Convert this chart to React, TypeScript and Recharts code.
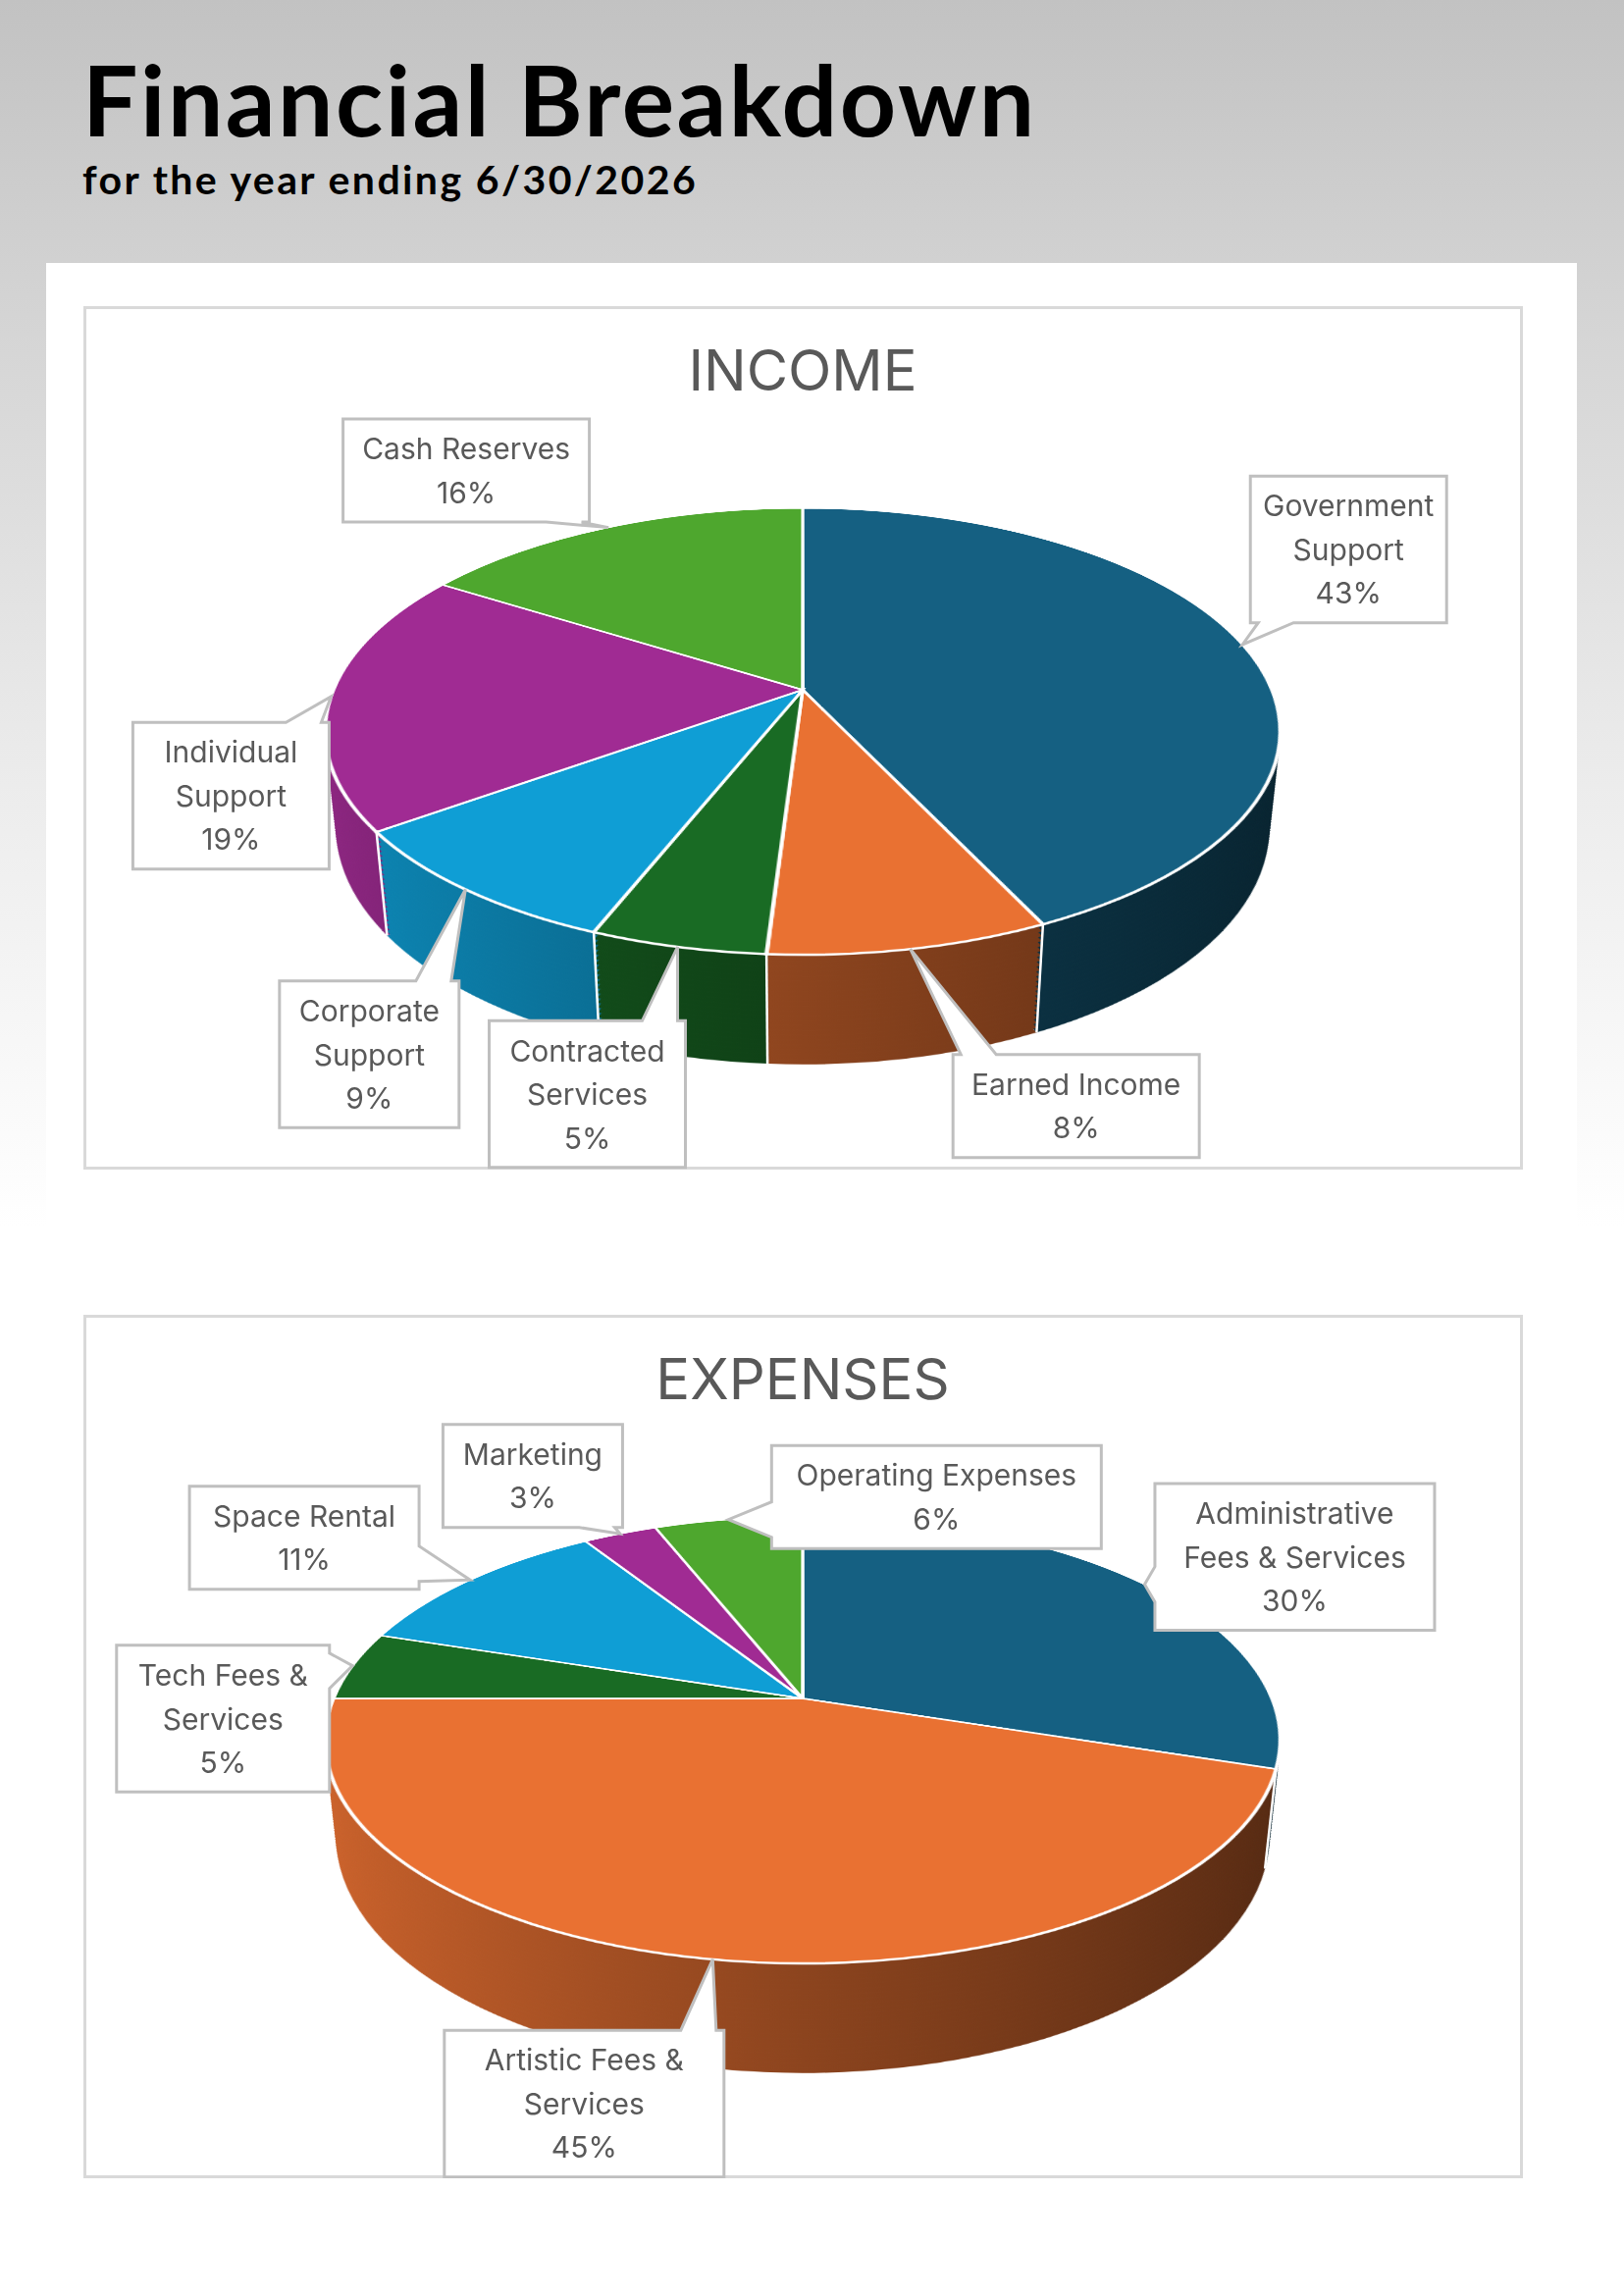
import React from 'react';
import { PieChart, Pie, Cell } from 'recharts';

// Office theme colours, in slice order
const palette = ['#156082', '#E97132', '#196B24', '#0F9ED5', '#A02B93', '#4EA72E'];

const incomeCategories = [
  'Government Support',
  'Earned Income',
  'Contracted Services',
  'Corporate Support',
  'Individual Support',
  'Cash Reserves',
];
const incomeValues = [43, 8, 5, 9, 19, 16];

const expenseCategories = [
  'Administrative Fees & Services',
  'Artistic Fees & Services',
  'Tech Fees & Services',
  'Space Rental',
  'Marketing',
  'Operating Expenses',
];
const expenseValues = [30, 45, 5, 11, 3, 6];

// chart frame
const W = 1467;
const H = 880;
// 3d view: pie centre on screen, disk radius, tilt, camera distance, thickness
const CX = 733;
const APEX = 391;
const RAD = 478;
const TILT = 62.65;
const PERSP = 2274;
const DEPTH = 112;
const L = 2 * RAD + 24;
const COS = Math.cos((TILT * Math.PI) / 180);
const SIN = Math.sin((TILT * Math.PI) / 180);

// callout box offsets from the slice edge (label layout, like Excel's placement)
const incomeLabelNudge = [[108, -97], [169, 160], [-92, 150], [-98, 168], [-102, 101], [-145, -58]];
const expenseLabelNudge = [[153, -28], [-131, 147], [-132, 54], [-169, -43], [-89, -59], [212, -23]];

function shade(hex: string, f: number) {
  const n = parseInt(hex.slice(1), 16);
  const r = Math.round(((n >> 16) & 255) * f);
  const g = Math.round(((n >> 8) & 255) * f);
  const b = Math.round((n & 255) * f);
  return `rgb(${r},${g},${b})`;
}

// same projection as the css rotateX + perspective used for the disks
function project(cx: number, cy: number, angleDeg: number, t: number) {
  const th = (angleDeg * Math.PI) / 180;
  const x = RAD * Math.cos(th);
  const y = -RAD * Math.sin(th);
  const Y = y * COS + t * SIN;
  const Z = y * SIN - t * COS;
  const k = PERSP / (PERSP - Z);
  return [cx + x * k, cy + Y * k];
}

function wrap(text: string, max: number) {
  const lines: string[] = [];
  let cur = '';
  text.split(' ').forEach((w) => {
    const t = cur ? cur + ' ' + w : w;
    if (t.length > max && cur) {
      lines.push(cur);
      cur = w;
    } else cur = t;
  });
  if (cur) lines.push(cur);
  return lines;
}

function calloutPath(x0: number, y0: number, x1: number, y1: number, tx: number, ty: number) {
  const half = 18;
  const cl = (v: number, a: number, b: number) => Math.max(a, Math.min(b, v));
  let side = '';
  if (ty > y1) side = 'bottom';
  else if (ty < y0) side = 'top';
  else if (tx < x0) side = 'left';
  else if (tx > x1) side = 'right';
  const pts: number[][] = [[x0, y0]];
  if (side === 'top') {
    const bx = cl(tx, x0 + half + 8, x1 - half - 8);
    pts.push([bx - half, y0], [tx, ty], [bx + half, y0]);
  }
  pts.push([x1, y0]);
  if (side === 'right') {
    const by = cl(ty, y0 + half + 8, y1 - half - 8);
    pts.push([x1, by - half], [tx, ty], [x1, by + half]);
  }
  pts.push([x1, y1]);
  if (side === 'bottom') {
    const bx = cl(tx, x0 + half + 8, x1 - half - 8);
    pts.push([bx + half, y1], [tx, ty], [bx - half, y1]);
  }
  pts.push([x0, y1]);
  if (side === 'left') {
    const by = cl(ty, y0 + half + 8, y1 - half - 8);
    pts.push([x0, by + half], [tx, ty], [x0, by - half]);
  }
  return 'M' + pts.map((p) => p.join(',')).join('L') + 'Z';
}

type Datum = { name: string; value: number };

// one flat pie tilted back in 3d; depth pushes it down along the disk normal
function Disk({ data, fills, depth, top }: { data: Datum[]; fills: string[]; depth: number; top?: boolean }) {
  return (
    <div
      style={{
        position: 'absolute',
        left: CX - L / 2,
        top: APEX - L / 2,
        width: L,
        height: L,
        transformOrigin: '50% 50%',
        transform: `rotateX(${TILT}deg) translateZ(${-depth}px)`,
      }}
    >
      <PieChart width={L} height={L} margin={{ top: 0, right: 0, bottom: 0, left: 0 }}>
        <Pie
          data={data}
          dataKey="value"
          nameKey="name"
          cx={L / 2}
          cy={L / 2}
          outerRadius={RAD}
          startAngle={90}
          endAngle={-270}
          stroke={top ? '#fff' : 'none'}
          strokeWidth={top ? 3.5 : 0}
          isAnimationActive={false}
        >
          {data.map((_, i) => (
            <Cell key={i} fill={fills[i]} />
          ))}
        </Pie>
      </PieChart>
    </div>
  );
}

interface Pie3DProps {
  id: string;
  title: string;
  categories: string[];
  values: number[];
  nudges: number[][];
  wrapAt: number;
}

function Pie3D({ id, title, categories, values, nudges, wrapAt }: Pie3DProps) {
  const data = categories.map((name, i) => ({ name, value: values[i] }));
  const wallFills = data.map((_, i) => `url(#${id}-wall-${i})`);
  const topFills = data.map((_, i) => palette[i]);
  const u = (RAD * SIN) / PERSP;

  const layers: number[] = [];
  for (let t = DEPTH; t > 0; t -= 5) layers.push(t);

  // white seams on the side wall at slice boundaries
  const renderSeam = (props: any) => {
    const { cx, cy, startAngle, index } = props;
    if (-Math.sin((startAngle * Math.PI) / 180) <= u + 0.02) return <g key={`seam-${index}`} />;
    const [x1, y1] = project(cx, cy, startAngle, 0);
    const [x2, y2] = project(cx, cy, startAngle, DEPTH);
    return <line key={`seam-${index}`} x1={x1} y1={y1} x2={x2} y2={y2} stroke="#fff" strokeWidth={2.5} />;
  };

  const renderLabel = (props: any) => {
    const { cx, cy, midAngle, index, percent } = props;
    const [tx, ty] = project(cx, cy, midAngle, 0);
    const lines = wrap(categories[index], wrapAt).concat(`${Math.round(percent * 100)}%`);
    const longest = Math.max(...lines.map((l) => l.length));
    const bw = longest * 17 + 30;
    const bh = lines.length * 44.5 + 16;
    const bx = tx + nudges[index][0];
    const by = ty + nudges[index][1];
    const x0 = bx - bw / 2;
    const y0 = by - bh / 2;
    return (
      <g key={`lbl-${index}`}>
        <path d={calloutPath(x0, y0, x0 + bw, y0 + bh, tx, ty)} fill="#fff" stroke="#bfbfbf" strokeWidth={3} />
        <text textAnchor="middle" fontSize={30} fill="#595959" fontFamily="Inter, sans-serif">
          {lines.map((l, j) => (
            <tspan key={j} x={bx} y={y0 + 8 + 44.5 * (j + 0.5) + 11}>
              {l}
            </tspan>
          ))}
        </text>
      </g>
    );
  };

  const flatPie = {
    data,
    dataKey: 'value',
    nameKey: 'name',
    cx: CX,
    cy: APEX,
    outerRadius: RAD,
    startAngle: 90,
    endAngle: -270,
    fill: 'none',
    stroke: 'none',
    labelLine: false,
    isAnimationActive: false,
  };

  return (
    <div
      style={{
        position: 'relative',
        width: W,
        height: H,
        background: '#fff',
        boxShadow: 'inset 0 0 0 3px #d9d9d9',
      }}
    >
      <svg width={0} height={0} style={{ position: 'absolute' }}>
        <defs>
          {palette.map((c, i) => (
            <linearGradient
              key={i}
              id={`${id}-wall-${i}`}
              gradientUnits="userSpaceOnUse"
              x1={L / 2 - RAD}
              y1={0}
              x2={L / 2 + RAD}
              y2={0}
            >
              <stop offset="0%" stopColor={shade(c, 0.88)} />
              <stop offset="50%" stopColor={shade(c, 0.6)} />
              <stop offset="100%" stopColor={shade(c, 0.36)} />
            </linearGradient>
          ))}
        </defs>
      </svg>

      <div
        style={{
          position: 'absolute',
          left: 0,
          top: 0,
          width: W,
          height: H,
          perspective: `${PERSP}px`,
          perspectiveOrigin: `${CX}px ${APEX}px`,
        }}
      >
        {layers.map((t) => (
          <Disk key={`wall-${t}`} data={data} fills={wallFills} depth={t} />
        ))}
        <div style={{ position: 'absolute', left: 0, top: 0 }}>
          <PieChart width={W} height={H} margin={{ top: 0, right: 0, bottom: 0, left: 0 }}>
            <Pie {...flatPie} label={renderSeam} />
          </PieChart>
        </div>
        <Disk data={data} fills={topFills} depth={0} top />
      </div>

      <div style={{ position: 'absolute', left: 0, top: 0 }}>
        <PieChart width={W} height={H} margin={{ top: 0, right: 0, bottom: 0, left: 0 }}>
          <text x={CX} y={86} textAnchor="middle" fontSize={58} fill="#595959" fontFamily="Inter, sans-serif">
            {title}
          </text>
          <Pie {...flatPie} label={renderLabel} />
        </PieChart>
      </div>
    </div>
  );
}

export default function App() {
  return (
    <div
      style={{
        position: 'absolute',
        left: 0,
        top: 0,
        width: 1655,
        height: 2340,
        overflow: 'hidden',
        background: 'linear-gradient(to bottom, #c2c2c2 0px, #d3d3d3 300px, #ececec 800px, #ffffff 1250px)',
      }}
    >
      <div style={{ position: 'absolute', left: 47, top: 268, width: 1560, height: 1100, background: '#fff' }} />
      <svg width={1655} height={260} style={{ position: 'absolute', left: 0, top: 0 }}>
        <text x={84} y={139} fontFamily="Lato, sans-serif" fontWeight={700} fontSize={100} letterSpacing={2.5} fill="#000">
          Financial Breakdown
        </text>
        <text x={84} y={198} fontFamily="Lato, sans-serif" fontWeight={700} fontSize={41} letterSpacing={2.4} fill="#000">
          for the year ending 6/30/2026
        </text>
      </svg>
      <div style={{ position: 'absolute', left: 85, top: 312 }}>
        <Pie3D
          id="income"
          title="INCOME"
          categories={incomeCategories}
          values={incomeValues}
          nudges={incomeLabelNudge}
          wrapAt={16}
        />
      </div>
      <div style={{ position: 'absolute', left: 85, top: 1340 }}>
        <Pie3D
          id="expenses"
          title="EXPENSES"
          categories={expenseCategories}
          values={expenseValues}
          nudges={expenseLabelNudge}
          wrapAt={18}
        />
      </div>
    </div>
  );
}
